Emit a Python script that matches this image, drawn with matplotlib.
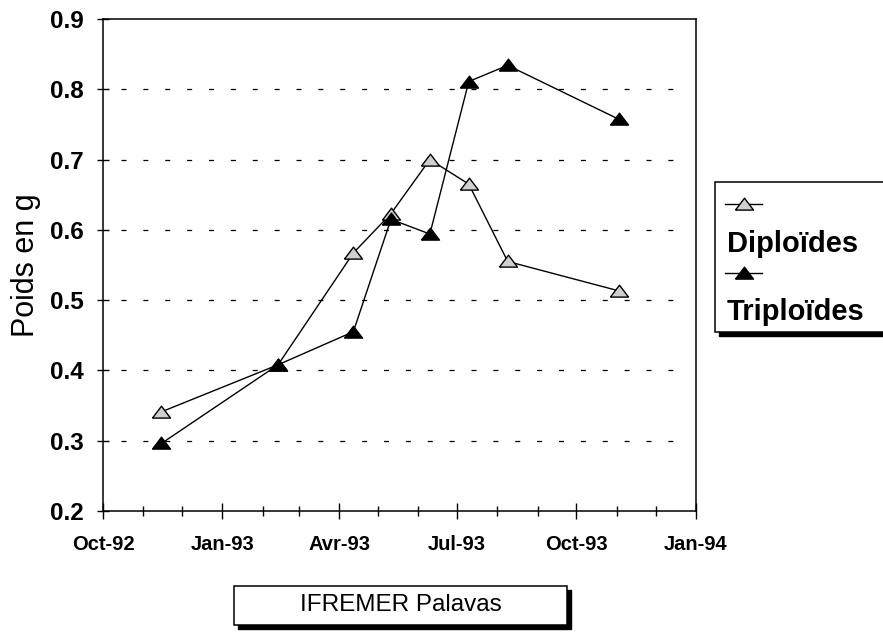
import datetime as dt
import matplotlib
matplotlib.use("Agg")
import matplotlib.pyplot as plt
import matplotlib.dates as mdates
from matplotlib.patches import Rectangle
from matplotlib.lines import Line2D
from matplotlib.ticker import FuncFormatter, MultipleLocator

plt.rcParams['font.family'] = ['Liberation Sans', 'DejaVu Sans']

# sampling dates (same for both groups)
dates = ['1992-11-15', '1993-02-13', '1993-04-12', '1993-05-11',
         '1993-06-10', '1993-07-10', '1993-08-09', '1993-11-03']
diploides = [0.341, 0.408, 0.567, 0.623, 0.700, 0.665, 0.555, 0.513]
triploides = [0.296, 0.408, 0.455, 0.615, 0.594, 0.811, 0.834, 0.757]

mois_fr = {1: 'Jan', 4: 'Avr', 7: 'Jul', 10: 'Oct'}

x = [dt.datetime.strptime(d, '%Y-%m-%d') for d in dates]

# flattened triangle marker
tri = [(-1, -0.62), (1, -0.62), (0, 0.7), (-1, -0.62)]

fig = plt.figure(figsize=(8.83, 6.32), dpi=100)
ax = fig.add_axes([0.1166, 0.1915, 0.6714, 0.7785])

ax.plot(x, diploides, color='black', lw=1, marker=tri, ms=13,
        mfc='#cfcfcf', mec='black', mew=1, zorder=3)
ax.plot(x, triploides, color='black', lw=1, marker=tri, ms=13,
        mfc='black', mec='black', mew=1, zorder=3)

ax.set_xlim(dt.datetime(1992, 10, 1), dt.datetime(1994, 1, 1))
ax.set_ylim(0.2, 0.9)

ax.xaxis.set_major_locator(mdates.MonthLocator(bymonth=[1, 4, 7, 10]))
ax.xaxis.set_minor_locator(mdates.MonthLocator())
ax.xaxis.set_major_formatter(FuncFormatter(
    lambda v, pos: '%s-%s' % (mois_fr[mdates.num2date(v).month],
                              mdates.num2date(v).strftime('%y'))))
ax.yaxis.set_major_locator(MultipleLocator(0.1))
ax.yaxis.set_major_formatter(FuncFormatter(lambda v, pos: '%.1f' % v))

ax.tick_params(axis='x', which='major', direction='inout', length=11,
               width=1, pad=12, labelsize=14.5)
ax.tick_params(axis='x', which='minor', direction='inout', length=7, width=1)
ax.tick_params(axis='y', which='major', direction='inout', length=8,
               width=1, pad=10, labelsize=17.5)
for lab in ax.get_xticklabels() + ax.get_yticklabels():
    lab.set_fontweight('bold')

for s in ax.spines.values():
    s.set_linewidth(1.1)

# dashed horizontal grid lines
for yv in [0.3, 0.4, 0.5, 0.6, 0.7, 0.8]:
    ax.axhline(yv, xmin=0.03, xmax=0.97, color='black', lw=0.9,
               ls=(0, (4, 13.5)), zorder=1)

ax.set_ylabel('Poids en g', fontsize=22, labelpad=6)

# legend box with shadow
fig.patches.append(Rectangle((719 / 883, 1 - 336 / 632), 0.25, 150 / 632,
                             transform=fig.transFigure, color='black',
                             zorder=1))
fig.patches.append(Rectangle((715 / 883, 1 - 332 / 632), 0.25, 150 / 632,
                             transform=fig.transFigure, facecolor='white',
                             edgecolor='black', lw=1.1, zorder=2))
for yy, fc in [(204, '#cfcfcf'), (273, 'black')]:
    fig.lines.append(Line2D([725 / 883, 762 / 883], [1 - yy / 632] * 2,
                            transform=fig.transFigure, color='black', lw=1,
                            zorder=3))
    fig.lines.append(Line2D([743.5 / 883], [1 - yy / 632],
                            transform=fig.transFigure, marker=tri, ms=13,
                            mfc=fc, mec='black', ls='none', zorder=4))
fig.text(727 / 883, 1 - 252 / 632, 'Diploïdes', fontsize=21,
         fontweight='bold', va='baseline', zorder=4)
fig.text(727 / 883, 1 - 320 / 632, 'Triploïdes', fontsize=21,
         fontweight='bold', va='baseline', zorder=4)

# source box
fig.patches.append(Rectangle((238 / 883, 1 - 629 / 632), 333 / 883, 39 / 632,
                             transform=fig.transFigure, color='black',
                             zorder=1))
fig.patches.append(Rectangle((234 / 883, 1 - 625 / 632), 333 / 883, 39 / 632,
                             transform=fig.transFigure, facecolor='white',
                             edgecolor='black', lw=1.1, zorder=2))
fig.text(400.5 / 883, 1 - 605 / 632, 'IFREMER Palavas', fontsize=17.5,
         ha='center', va='center', zorder=3)

fig.savefig('out.png', dpi=100)
